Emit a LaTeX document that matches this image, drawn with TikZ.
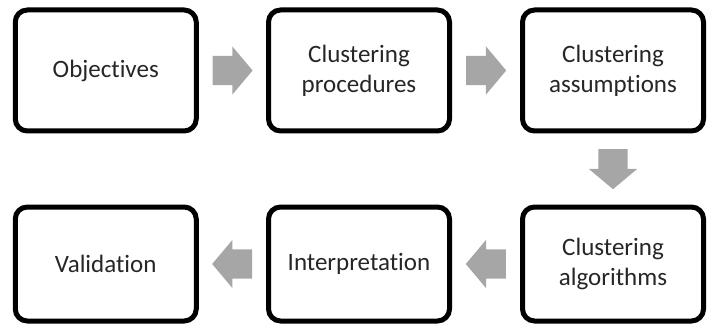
\documentclass[tikz,border=0pt]{standalone}
\usepackage{fontspec}
\setmainfont{Carlito}[Ligatures=NoCommon]
\usetikzlibrary{calc,shapes.arrows}
\definecolor{arrowgray}{HTML}{A6A6A6}
\begin{document}
\begin{tikzpicture}[x=1pt,y=-1pt, line join=round]
	\tikzset{stage/.style={draw=black, line width=5pt, rounded corners=12pt, minimum width=181pt, align=center, text=black!85, font=\fontsize{25}{30}\selectfont},
		flow/.style={single arrow, fill=arrowgray, draw=none, inner sep=0pt, minimum height=40pt, single arrow head extend=9.5pt, single arrow tip angle=100, anchor=tail},
		hflow/.style={flow, inner ysep=14.5pt}, vflow/.style={flow, inner xsep=14.5pt}}
	\useasboundingbox (0,0) rectangle (709,326);
	\node[stage, minimum height=121pt] (obj) at (105.75,70.5) {Objectives};
	\node[stage, minimum height=121pt] (proc) at (359,70.5) {Clustering\\procedures};
	\node[stage, minimum height=121pt] (assum) at (613,70.5) {Clustering\\assumptions};
	\node[stage, minimum height=114pt] (algo) at (613,264) {Clustering\\algorithms};
	\node[stage, minimum height=114pt] (interp) at (359,264) {Interpretation};
	\node[stage, minimum height=114pt] (valid) at (105.75,264) {Validation};
	\node[hflow, shape border rotate=0] (a1) at ($(obj.east)!0.5!(proc.west)+(-20,0)$) {};
	\node[hflow, shape border rotate=0] (a2) at ($(proc.east)!0.5!(assum.west)+(-20,0)$) {};
	\node[vflow, shape border rotate=270] (a3) at ($(assum.south)!0.5!(algo.north)+(0,-20)$) {};
	\node[hflow, shape border rotate=180] (a4) at ($(algo.west)!0.5!(interp.east)+(20,0)$) {};
	\node[hflow, shape border rotate=180] (a5) at ($(interp.west)!0.5!(valid.east)+(20,0)$) {};
\end{tikzpicture}
\end{document}
